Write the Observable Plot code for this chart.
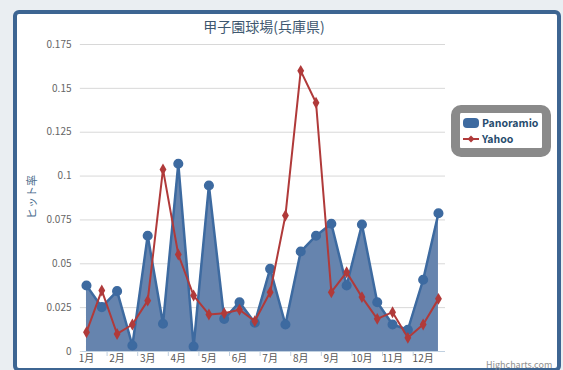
<!DOCTYPE html>
<html>
<head>
<meta charset="utf-8">
<script src="https://cdn.jsdelivr.net/npm/d3@7"></script>
<script src="https://cdn.jsdelivr.net/npm/@observablehq/plot@0.6"></script>
<style>
  html, body { margin: 0; padding: 0; }
  body { width: 563px; height: 370px; background: #eaeef2; position: relative; overflow: hidden;
         font-family: "Noto Sans CJK JP", "Noto Sans", sans-serif; }
  #frame { position: absolute; left: 13px; top: 10px; width: 548px; height: 362px; box-sizing: border-box;
           border: 4px solid #3d6592; border-radius: 6px; background: #fff; }
  #chart { position: absolute; left: 0; top: 0; }
  #title { position: absolute; left: 0; width: 528px; top: 16px; text-align: center; font-size: 14px; color: #3e576f; }
  #legend { position: absolute; left: 451px; top: 105px; width: 100px; height: 52px; box-sizing: border-box;
            border: 9px solid #8a8a8a; border-top-width: 8px; border-bottom-width: 9px; border-radius: 10px; background: #fff;
            font-size: 10.5px; font-weight: bold; color: #274b6d; }
  .item { position: absolute; left: 2px; height: 14px; line-height: 14px; white-space: nowrap; }
  .item svg { position: absolute; left: 0; top: 0; }
  .item span { position: absolute; left: 20px; top: 0; }
  #credit { position: absolute; left: 486px; top: 358px; font-size: 9px; color: #909090; }
</style>
</head>
<body>
<div id="frame"></div>
<div id="chart"></div>
<div id="title">甲子園球場(兵庫県)</div>
<div id="legend"></div>
<div id="credit">Highcharts.com</div>
<script>
const title = "甲子園球場(兵庫県)";
const yTitle = "ヒット率";
const months = ["1月","2月","3月","4月","5月","6月","7月","8月","9月","10月","11月","12月"];
const seriesNames = ["Panoramio", "Yahoo"];
const panoramio = [0.0376,0.0253,0.0344,0.0034,0.0660,0.0158,0.1070,0.0028,0.0946,0.0186,0.0281,0.0164,
                   0.0471,0.0154,0.0570,0.0660,0.0728,0.0376,0.0724,0.0281,0.0154,0.0124,0.0409,0.0788];
const yahoo = [0.0110,0.0348,0.0100,0.0154,0.0290,0.1038,0.0553,0.0319,0.0211,0.0218,0.0238,0.0173,
               0.0338,0.0775,0.1600,0.1418,0.0338,0.0452,0.0310,0.0186,0.0224,0.0078,0.0154,0.0300];
const yTicks = [0, 0.025, 0.05, 0.075, 0.1, 0.125, 0.15, 0.175];
const yTickLabels = ["0","0.025","0.05","0.075","0.1","0.125","0.15","0.175"];

const colPan = "#3d6aa0";
const colPanFill = "#6684ae";
const colYahoo = "#b03a3a";

const pan = panoramio.map((v, i) => ({i, v}));
const yah = yahoo.map((v, i) => ({i, v}));
const monthIdx = months.map((m, k) => 2 * k);

const plot = Plot.plot({
  width: 563, height: 370,
  marginLeft: 82, marginRight: 118, marginTop: 44, marginBottom: 19,
  style: {background: "none", fontFamily: "'Noto Sans CJK JP', 'Noto Sans', sans-serif", overflow: "visible"},
  x: {domain: [-0.26, 23.46]},
  y: {domain: [0, 0.175]},
  marks: [
    Plot.gridY(yTicks, {stroke: "#d8d8d8", strokeOpacity: 1, x1: -0.4}),
    Plot.axisY(yTicks, {tickSize: 0, tickPadding: 11, fontSize: 10, fill: "#666",
      tickFormat: d => yTickLabels[yTicks.indexOf(d)], label: null}),
    Plot.areaY(pan, {x: "i", y: "v", fill: colPanFill, fillOpacity: 1}),
    Plot.lineY(pan, {x: "i", y: "v", stroke: colPan, strokeWidth: 2.5}),
    Plot.dot(pan, {x: "i", y: "v", r: 4.3, fill: colPan, stroke: colPan}),
    Plot.ruleY([0], {stroke: "#c0d0e0", strokeWidth: 1.2}),
    Plot.axisX(monthIdx.slice(1), {text: null, tickSize: 5, dx: -10, stroke: "#c0d0e0", label: null}),
    Plot.axisX(monthIdx, {tickSize: 0, tickPadding: 3, fontSize: 10, fill: "#555",
      tickFormat: i => months[i / 2], label: null}),
    Plot.lineY(yah, {x: "i", y: "v", stroke: colYahoo, strokeWidth: 2}),
    Plot.dot(yah, {x: "i", y: "v", symbol: "diamond", r: 3.6, fill: colYahoo, stroke: "none"})
  ]
});
document.getElementById("chart").appendChild(plot);

// y-axis title
const svg = d3.select(plot);
svg.append("text")
  .attr("transform", "translate(36,197) rotate(-90)")
  .attr("text-anchor", "middle")
  .attr("font-size", 11)
  .attr("fill", "#4d6d8e")
  .text(yTitle);

// legend
const legend = document.getElementById("legend");
legend.innerHTML = `
  <div class="item" style="top:3px">
    <svg width="18" height="14"><rect x="1" y="2" width="16" height="10" rx="4" fill="${colPan}"/></svg>
    <span>${seriesNames[0]}</span>
  </div>
  <div class="item" style="top:19px">
    <svg width="18" height="14"><line x1="1" y1="7" x2="17" y2="7" stroke="${colYahoo}" stroke-width="2"/>
      <path d="M9 3.5 L12.5 7 L9 10.5 L5.5 7 Z" fill="${colYahoo}"/></svg>
    <span>${seriesNames[1]}</span>
  </div>`;
</script>
</body>
</html>
